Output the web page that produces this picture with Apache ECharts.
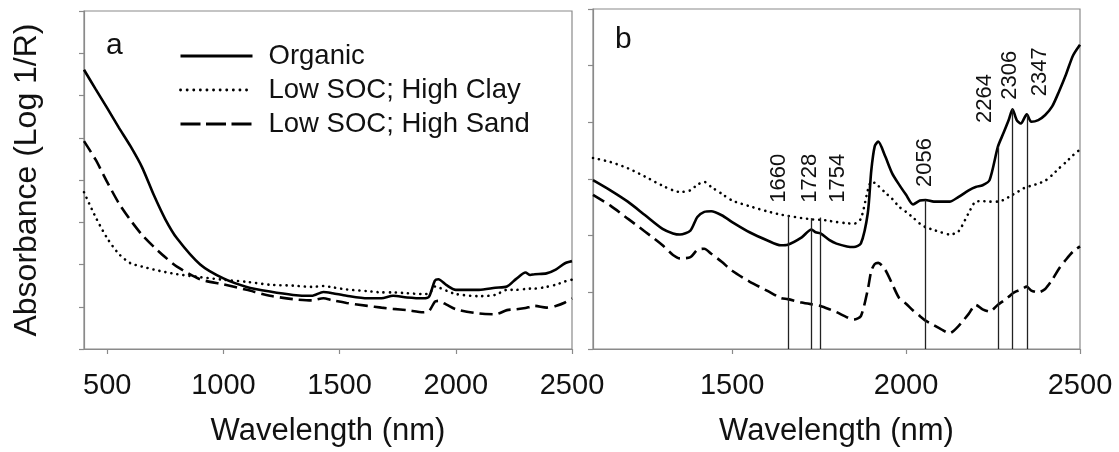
<!DOCTYPE html>
<html><head><meta charset="utf-8">
<script src="https://cdn.jsdelivr.net/npm/echarts@6/dist/echarts.min.js"></script>
<style>html,body{margin:0;padding:0;background:#fff}#c{width:1119px;height:452px}</style>
</head><body><div id="c"></div>
<script>
// ---------- Panel a (400–2500 nm) ----------
const leftNm = [400,450,500,550,600,650,700,750,800,900,1000,1100,1200,1300,1380,1430,1470,1530,1620,1680,1730,1790,1860,1885,1910,1925,1960,2000,2100,2170,2220,2260,2300,2320,2340,2390,2430,2470,2500];
const organicA = [6.61,6.15,5.70,5.24,4.80,4.30,3.65,3.07,2.62,2.00,1.67,1.47,1.36,1.28,1.26,1.35,1.32,1.26,1.20,1.20,1.26,1.22,1.20,1.24,1.62,1.65,1.51,1.40,1.40,1.45,1.48,1.66,1.81,1.75,1.77,1.79,1.88,2.03,2.08];
const clayA    = [3.71,3.12,2.62,2.25,2.03,1.95,1.88,1.82,1.77,1.70,1.64,1.59,1.52,1.50,1.47,1.49,1.46,1.41,1.37,1.34,1.34,1.32,1.30,1.31,1.48,1.46,1.38,1.30,1.25,1.28,1.40,1.40,1.42,1.43,1.43,1.47,1.52,1.60,1.64];
const sandA    = [4.92,4.48,3.95,3.45,3.05,2.70,2.42,2.17,1.95,1.65,1.53,1.40,1.26,1.18,1.15,1.20,1.15,1.09,1.02,0.98,0.95,0.92,0.87,0.90,1.12,1.14,1.05,0.94,0.84,0.82,0.92,0.94,0.97,1.00,1.02,0.98,1.02,1.10,1.20];

// ---------- Panel b (1100–2500 nm) ----------
const rightNm = [1100,1150,1200,1250,1300,1330,1350,1380,1400,1420,1440,1470,1500,1550,1600,1640,1660,1700,1728,1740,1754,1780,1800,1830,1850,1870,1890,1900,1910,1920,1940,1960,1980,2000,2020,2040,2056,2080,2100,2125,2150,2180,2200,2220,2240,2264,2280,2295,2306,2318,2330,2347,2360,2380,2400,2420,2440,2460,2480,2500];
const organicB = [2.98,2.80,2.60,2.36,2.12,2.04,2.02,2.09,2.33,2.42,2.43,2.36,2.24,2.06,1.92,1.83,1.84,1.97,2.11,2.06,2.04,1.92,1.86,1.81,1.80,1.86,2.40,3.15,3.58,3.66,3.40,3.10,2.90,2.72,2.55,2.62,2.63,2.60,2.60,2.60,2.68,2.80,2.86,2.89,2.98,3.57,3.81,4.04,4.23,4.04,3.98,4.14,4.01,4.04,4.13,4.28,4.55,4.85,5.18,5.37];
const clayB    = [3.37,3.30,3.19,3.04,2.88,2.80,2.77,2.80,2.90,2.95,2.86,2.74,2.62,2.52,2.43,2.37,2.35,2.31,2.29,2.28,2.28,2.26,2.24,2.22,2.21,2.30,2.80,2.95,2.93,2.88,2.76,2.65,2.51,2.42,2.32,2.21,2.15,2.10,2.06,2.02,2.07,2.40,2.60,2.61,2.60,2.60,2.63,2.68,2.72,2.76,2.81,2.86,2.88,2.92,2.97,3.07,3.19,3.30,3.42,3.52];
const sandB    = [2.72,2.53,2.30,2.07,1.83,1.66,1.60,1.62,1.75,1.77,1.68,1.54,1.38,1.19,1.03,0.90,0.88,0.82,0.79,0.78,0.76,0.70,0.65,0.56,0.52,0.58,1.05,1.38,1.50,1.52,1.40,1.15,0.90,0.80,0.68,0.58,0.50,0.42,0.35,0.28,0.40,0.62,0.78,0.70,0.66,0.78,0.85,0.92,0.98,1.02,1.05,1.10,1.03,1.00,1.06,1.22,1.42,1.58,1.72,1.81];

// ---------- Marked wavelengths (panel b) ----------
const markerNm = [1660,1728,1754,2056,2264,2306,2347];
const markerTop = [2.36,2.31,2.32,2.63,3.57,4.24,4.13];
const markerLabelNm = [1635,1724,1804,2054,2226,2299,2385];
const markerLabelBase = [2.58,2.58,2.58,2.86,3.99,4.40,4.46];

// ---------- Axis tick labels ----------
const ticksA = [500,1000,1500,2000,2500];
const ticksB = [1500,2000,2500];
const seriesNames = ['Organic','Low SOC; High Clay','Low SOC; High Sand'];

const FONT = 'Liberation Sans, Arial, sans-serif';
const AXC = '#8a8a8a';
const TXT = '#111';
const pairs = (xs, ys) => xs.map((x, i) => [x, ys[i]]);

const styles = [
  {color:'#000', width:2.6, type:'solid'},
  {color:'#000', width:2.6, type:[0.1,6], cap:'round'},
  {color:'#000', width:2.6, type:[13,6]}
];
const legendLineStyles = [
  {color:'#000', width:3, type:'solid'},
  {color:'#000', width:2.8, type:[0.1,6.5], cap:'round'},
  {color:'#000', width:3, type:[20,5.5]}
];

function xAxis(gridIndex, min, ticks){
  return {
    type:'value', gridIndex, min, max:2500,
    name:'Wavelength (nm)', nameLocation:'middle', nameGap:67,
    nameTextStyle:{fontSize:31, fontFamily:FONT, color:TXT},
    axisLine:{show:true, onZero:false, lineStyle:{color:AXC, width:1.2}},
    axisTick:{show:true, length:5, customValues:ticks, lineStyle:{color:AXC, width:1.2}},
    axisLabel:{show:true, customValues:ticks, margin:22, fontSize:29, fontFamily:FONT, color:TXT,
      formatter:v => String(v)},
    splitLine:{show:false}
  };
}
function yAxis(gridIndex, max, name){
  const a = {
    type:'value', gridIndex, min:0, max, interval:1,
    axisLine:{show:true, lineStyle:{color:AXC, width:1.2}},
    axisTick:{show:true, length:5, lineStyle:{color:AXC, width:1.2}},
    axisLabel:{show:false},
    splitLine:{show:false}
  };
  if (name) {
    a.name = name; a.nameLocation = 'middle'; a.nameGap = 41;
    a.nameTextStyle = {fontSize:32, fontFamily:FONT, color:TXT};
  }
  return a;
}

const series = [];
[organicA, clayA, sandA].forEach((d, i) => {
  series.push({name:seriesNames[i], type:'line', xAxisIndex:0, yAxisIndex:0,
    data:pairs(leftNm, d), symbol:'none', smooth:0.25, lineStyle:styles[i], itemStyle:{color:'#000'}});
});
[organicB, clayB, sandB].forEach((d, i) => {
  const s = {name:seriesNames[i], type:'line', xAxisIndex:1, yAxisIndex:1,
    data:pairs(rightNm, d), symbol:'none', smooth:0.25, lineStyle:styles[i], itemStyle:{color:'#000'}};
  if (i === 0) {
    s.markLine = {silent:true, symbol:['none','none'], label:{show:false},
      lineStyle:{color:'#222', width:1.3, type:'solid'},
      data: markerNm.map((x, k) => [{coord:[x, 0]}, {coord:[x, markerTop[k]]}])};
  }
  series.push(s);
});
series.push({
  name:'markerLabels', type:'scatter', xAxisIndex:1, yAxisIndex:1, silent:true, z:5,
  data:pairs(markerLabelNm, markerLabelBase), symbolSize:1, itemStyle:{color:'rgba(0,0,0,0)'},
  label:{show:true, position:'inside', rotate:90, align:'left', verticalAlign:'middle', opacity:1,
    formatter:p => String(markerNm[p.dataIndex]), fontSize:22, fontFamily:FONT, color:TXT}
});

const chart = echarts.init(document.getElementById('c'), null, {renderer:'canvas'});
chart.setOption({
  animation:false,
  backgroundColor:'#fff',
  title:[
    {text:'a', left:101, top:26, textStyle:{fontSize:30, fontWeight:'normal', fontFamily:FONT, color:TXT}},
    {text:'b', left:610, top:20, textStyle:{fontSize:30, fontWeight:'normal', fontFamily:FONT, color:TXT}}
  ],
  legend:{
    data:seriesNames.map((n, i) => ({name:n, lineStyle:legendLineStyles[i]})),
    orient:'vertical', left:174, top:37, itemWidth:72, itemHeight:14, itemGap:6,
    selectedMode:false, itemStyle:{opacity:0},
    textStyle:{fontSize:27.5, fontFamily:FONT, color:TXT, padding:[0,0,0,11]}},
  grid:[
    {left:84, top:11, width:488, height:339, show:true, borderColor:AXC, borderWidth:1.2},
    {left:593, top:9, width:487, height:340, show:true, borderColor:AXC, borderWidth:1.2}
  ],
  xAxis:[xAxis(0, 400, ticksA), xAxis(1, 1100, ticksB)],
  yAxis:[yAxis(0, 8, 'Absorbance (Log 1/R)'), yAxis(1, 6, null)],
  series
});
</script></body></html>
